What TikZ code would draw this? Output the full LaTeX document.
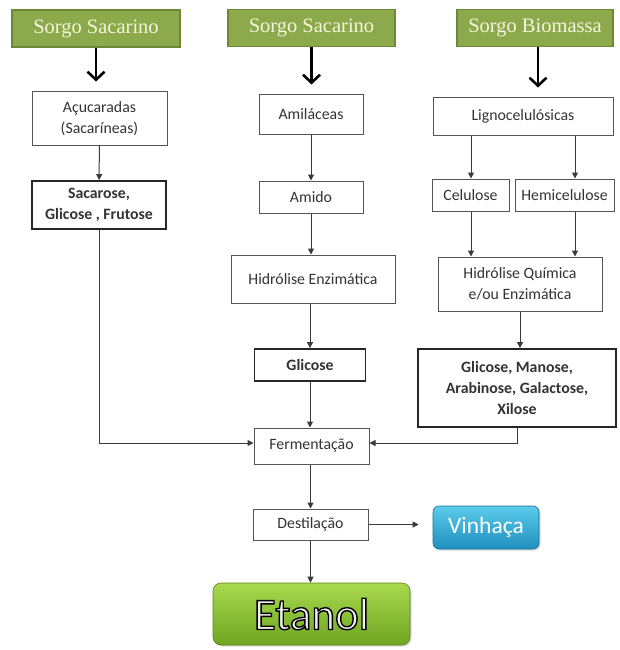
\documentclass[tikz,border=0pt]{standalone}
\usepackage{fontspec}
\setmainfont{Liberation Serif}
\newfontfamily\calfont{Carlito}
\usetikzlibrary{arrows.meta,shadows}

\definecolor{sorgofill}{HTML}{8CAA4B}
\definecolor{sorgoedge}{HTML}{6A8838}
\definecolor{sorgotext}{HTML}{F4F4DC}
\definecolor{boxedge}{HTML}{555555}
\definecolor{lineclr}{HTML}{3A3A3A}
\definecolor{limetop}{HTML}{A9D94E}
\definecolor{limebot}{HTML}{6FA521}
\definecolor{bluetop}{HTML}{5CCBEC}
\definecolor{bluebot}{HTML}{1F8FBE}

% outlined lettering: fill with the current colour, stroke in black
\newcommand{\outlined}[1]{\special{pdf:literal 0 0 0 RG 1.4 w 2 Tr}#1\special{pdf:literal 0 Tr}}

\tikzset{
  sorgo/.style={draw=sorgoedge, line width=1.2pt, fill=sorgofill, text=sorgotext,
    font=\fontsize{20.5}{22}\selectfont, inner sep=0pt, drop shadow={opacity=0.25, shadow xshift=1pt, shadow yshift=-1pt}},
  stage/.style={draw=boxedge, line width=1pt, fill=white, align=center,
    font=\calfont\fontsize{15.8}{21}\selectfont, text=black!80, inner sep=0pt},
  product/.style={stage, draw=black!85, line width=1.8pt, font=\calfont\bfseries\fontsize{15.8}{21}\selectfont},
  feed/.style={line width=2.6pt, black, -{Straight Barb[length=8pt,width=17pt,line width=2.6pt]}, shorten >=10pt},
  flow/.style={draw=lineclr, line width=1pt, -{Triangle[length=6pt,width=6pt]}},
}

\begin{document}
\begin{tikzpicture}[x=1pt,y=-1pt]
\useasboundingbox (0,0) rectangle (619,650);

% raw materials
\node[sorgo, minimum width=168pt, minimum height=37pt] (g1) at (96,28.5) {Sorgo Sacarino};
\node[sorgo, minimum width=167pt, minimum height=37pt] (g2) at (311.5,28) {Sorgo Sacarino};
\node[sorgo, minimum width=156pt, minimum height=37pt] (g3) at (535,28) {Sorgo Biomassa};

% sugar route
\node[stage, minimum width=135pt, minimum height=53pt] (acu) at (99.5,118.5) {Açucaradas\\(Sacaríneas)};
\node[product, minimum width=134pt, minimum height=48pt] (sac) at (99,205) {Sacarose,\\Glicose , Frutose};

% starch route
\node[stage, minimum width=104pt, minimum height=39pt] (ami) at (311,114.5) {Amiláceas};
\node[stage, minimum width=104pt, minimum height=32pt] (amido) at (311,197) {Amido};
\node[stage, minimum width=164pt, minimum height=48pt] (hidE) at (313,279) {Hidrólise Enzimática};
\node[product, minimum width=111pt, minimum height=32pt] (glic) at (310,365) {Glicose};

% lignocellulosic route
\node[stage, minimum width=180pt, minimum height=37pt] (ligno) at (523,116.5) {Lignocelulósicas};
\node[stage, minimum width=77pt, minimum height=32pt] (cel) at (470.5,195) {Celulose};
\node[stage, minimum width=99pt, minimum height=32pt] (hemi) at (564.5,195) {Hemicelulose};
\node[stage, minimum width=164pt, minimum height=54pt] (hidQ) at (520,284) {Hidrólise Química\\e/ou Enzimática};
\node[product, minimum width=198pt, minimum height=78pt] (gmx) at (517,388) {Glicose, Manose,\\Arabinose, Galactose,\\Xilose};

% common steps
\node[stage, minimum width=115pt, minimum height=36pt] (ferm) at (311.5,446) {Fermentação};
\node[stage, minimum width=115pt, minimum height=31pt] (dest) at (310.5,524.5) {Destilação};

\node[rounded corners=6pt, draw=bluebot!80!black, line width=0.6pt, top color=bluetop, bottom color=bluebot,
  text=white, font=\calfont\fontsize{23.5}{25}\selectfont, minimum width=106pt, minimum height=43pt, inner sep=0pt,
  drop shadow={opacity=0.3, shadow xshift=1.5pt, shadow yshift=-1.5pt}] (vin) at (486,527.5) {Vinhaça};
\node[rounded corners=8pt, draw=limebot!80!black, line width=0.6pt, top color=limetop, bottom color=limebot,
  text=black!6, font=\calfont\fontsize{45}{47}\selectfont, minimum width=197pt, minimum height=62pt, inner sep=0pt,
  drop shadow={opacity=0.3, shadow xshift=1.5pt, shadow yshift=-1.5pt}] (eta) at (311.5,614) {\outlined{Etanol}};

% column x positions of the split branches
\coordinate (xc) at (471,0);
\coordinate (xh) at (575,0);
\coordinate (xb) at (538,0);
\coordinate (yj) at (0,443);

% feed arrows
\draw[feed] (g1.south) -- (g1.south |- acu.north);
\draw[feed] (g2.south) -- (g2.south |- ami.north);
\draw[feed] (g3.south -| xb) -- (ligno.north -| xb);

% process arrows
\draw[flow] (acu) -- (sac);
\draw[flow] (ami) -- (amido);
\draw[flow] (amido.south) -- (amido.south |- hidE.north);
\draw[flow] (hidE.south -| glic.north) -- (glic.north);
\draw[flow] (glic) -- (glic.south |- ferm.north);
\draw[flow] (ligno.south -| xc) -- (cel.north -| xc);
\draw[flow] (ligno.south -| xh) -- (hemi.north -| xh);
\draw[flow] (cel.south -| xc) -- (hidQ.north -| xc);
\draw[flow] (hemi.south -| xh) -- (hidQ.north -| xh);
\draw[flow] (hidQ.south) -- (hidQ.south |- gmx.north);
\draw[flow] (sac.south) -- (sac.south |- yj) -- (ferm.west |- yj);
\draw[flow] (gmx.south) -- (gmx.south |- yj) -- (ferm.east |- yj);
\draw[flow] (ferm.south -| dest.north) -- (dest.north);
\draw[flow] (dest.east) -- ([xshift=-14pt]vin.west |- dest.east);
\draw[flow] (dest.south) -- (dest.south |- eta.north);
\end{tikzpicture}
\end{document}
